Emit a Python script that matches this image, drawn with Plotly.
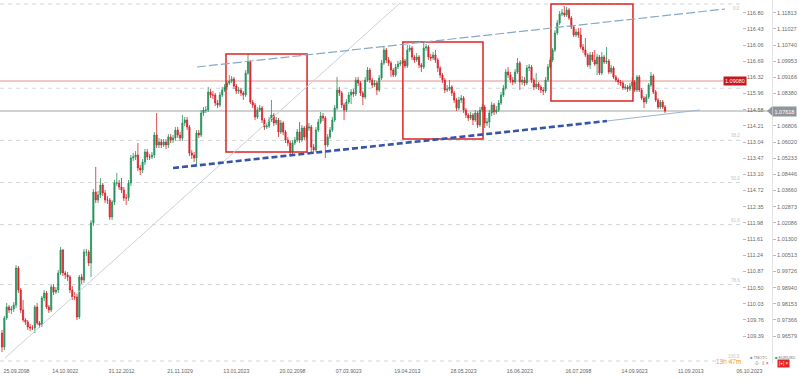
import plotly.graph_objects as go

# ---------------- data (EURUSD-like daily candles) ----------------
first_open = 0.9585

close_a = [0.9515, 0.9660, 0.9715, 0.9700, 0.9705, 0.9725, 0.9910, 0.9800, 0.9700, 0.9650,
           0.9640, 0.9615, 0.9610, 0.9610, 0.9715, 0.9635, 0.9625, 0.9760, 0.9785, 0.9715,
           0.9700, 0.9815, 0.9790, 0.9800, 0.9885, 1.0000, 0.9885, 0.9875, 0.9865, 0.9800,
           0.9765, 0.9765, 0.9665, 0.9865, 0.9850, 0.9990, 0.9990, 0.9935, 1.0135, 1.0290,
           1.0250, 1.0275, 1.0325, 1.0285, 1.0250, 1.0250, 1.0165, 1.0240, 1.0335, 1.0335,
           1.0315, 1.0300, 1.0260, 1.0260, 1.0335, 1.0460, 1.0465, 1.0475, 1.0410, 1.0400,
           1.0440, 1.0490, 1.0465, 1.0465, 1.0475, 1.0575, 1.0525, 1.0540, 1.0525, 1.0540,
           1.0525, 1.0565, 1.0550, 1.0560, 1.0600, 1.0575, 1.0560, 1.0635, 1.0650, 1.0615,
           1.0485, 1.0475, 1.0460, 1.0585, 1.0575, 1.0685, 1.0700, 1.0700, 1.0790, 1.0775,
           1.0775, 1.0735, 1.0725, 1.0775, 1.0800, 1.0815]
high_a = [0.9600, 0.9670, 0.9735, 0.9725, 0.9720, 0.9740, 0.9925, 0.9920, 0.9810, 0.9750,
          0.9660, 0.9650, 0.9630, 0.9625, 0.9725, 0.9735, 0.9645, 0.9770, 0.9800, 0.9795,
          0.9725, 0.9825, 0.9830, 0.9815, 0.9900, 1.0015, 1.0005, 0.9895, 0.9890, 0.9875,
          0.9820, 0.9790, 0.9780, 0.9875, 0.9880, 1.0005, 1.0005, 1.0000, 1.0150, 1.0305,
          1.0415, 1.0295, 1.0360, 1.0335, 1.0300, 1.0270, 1.0260, 1.0250, 1.0350, 1.0385,
          1.0350, 1.0360, 1.0315, 1.0280, 1.0350, 1.0475, 1.0485, 1.0495, 1.0535, 1.0425,
          1.0455, 1.0505, 1.0505, 1.0480, 1.0490, 1.0590, 1.0685, 1.0560, 1.0555, 1.0555,
          1.0555, 1.0580, 1.0580, 1.0575, 1.0615, 1.0615, 1.0590, 1.0675, 1.0665, 1.0665,
          1.0625, 1.0500, 1.0490, 1.0600, 1.0600, 1.0700, 1.0715, 1.0720, 1.0815, 1.0805,
          1.0795, 1.0785, 1.0750, 1.0790, 1.0815, 1.0830]
low_a = [0.9490, 0.9500, 0.9650, 0.9685, 0.9680, 0.9690, 0.9710, 0.9785, 0.9685, 0.9640,
         0.9625, 0.9600, 0.9595, 0.9600, 0.9585, 0.9625, 0.9610, 0.9615, 0.9745, 0.9705,
         0.9685, 0.9690, 0.9775, 0.9780, 0.9785, 0.9875, 0.9870, 0.9855, 0.9845, 0.9785,
         0.9750, 0.9750, 0.9650, 0.9655, 0.9830, 0.9835, 0.9970, 0.9920, 0.9865, 1.0120,
         1.0235, 1.0235, 1.0260, 1.0270, 1.0235, 1.0230, 1.0150, 1.0150, 1.0225, 1.0320,
         1.0300, 1.0285, 1.0245, 1.0225, 1.0245, 1.0320, 1.0445, 1.0450, 1.0395, 1.0375,
         1.0385, 1.0425, 1.0450, 1.0450, 1.0455, 1.0460, 1.0510, 1.0510, 1.0510, 1.0515,
         1.0505, 1.0510, 1.0535, 1.0535, 1.0545, 1.0560, 1.0545, 1.0545, 1.0620, 1.0600,
         1.0470, 1.0455, 1.0440, 1.0425, 1.0560, 1.0565, 1.0670, 1.0685, 1.0690, 1.0760,
         1.0755, 1.0720, 1.0710, 1.0715, 1.0765, 1.0790]

close_b1 = [1.0835, 1.0845, 1.0855, 1.0820, 1.0795, 1.0800, 1.0785, 1.0775, 1.0885, 1.0940,
            1.0740, 1.0725, 1.0665, 1.0700, 1.0710, 1.0650, 1.0615, 1.0620, 1.0650, 1.0675,
            1.0635, 1.0650, 1.0590, 1.0635, 1.0590, 1.0550, 1.0535, 1.0490, 1.0535, 1.0550,
            1.0590, 1.0550, 1.0610, 1.0565, 1.0610]
high_b1 = [1.0850, 1.0875, 1.0870, 1.0865, 1.0830, 1.0815, 1.0810, 1.0795, 1.0900, 1.0980,
           1.0950, 1.0750, 1.0735, 1.0715, 1.0725, 1.0720, 1.0660, 1.0635, 1.0665, 1.0750,
           1.0685, 1.0665, 1.0660, 1.0650, 1.0645, 1.0600, 1.0565, 1.0545, 1.0550, 1.0565,
           1.0605, 1.0640, 1.0625, 1.0620, 1.0625]
low_b1 = [1.0800, 1.0825, 1.0835, 1.0805, 1.0780, 1.0780, 1.0770, 1.0750, 1.0765, 1.0875,
          1.0730, 1.0710, 1.0650, 1.0655, 1.0690, 1.0635, 1.0600, 1.0605, 1.0610, 1.0640,
          1.0620, 1.0625, 1.0565, 1.0580, 1.0575, 1.0535, 1.0520, 1.0475, 1.0480, 1.0525,
          1.0540, 1.0535, 1.0540, 1.0550, 1.0555]

close_b2 = [1.0615, 1.0515, 1.0500, 1.0600, 1.0640, 1.0670, 1.0660, 1.0525, 1.0565, 1.0600,
            1.0650, 1.0710, 1.0800, 1.0785, 1.0725, 1.0700, 1.0740, 1.0775, 1.0790, 1.0780,
            1.0850, 1.0835, 1.0785, 1.0765, 1.0850, 1.0900, 1.0850, 1.0825, 1.0835, 1.0800,
            1.0860, 1.0935, 1.1000, 1.0950, 1.0935, 1.0900, 1.0875, 1.0915, 1.0930, 1.0935,
            1.0945]
high_b2 = [1.0635, 1.0625, 1.0530, 1.0615, 1.0655, 1.0690, 1.0685, 1.0670, 1.0580, 1.0615,
           1.0665, 1.0725, 1.0865, 1.0815, 1.0795, 1.0735, 1.0755, 1.0790, 1.0805, 1.0805,
           1.0865, 1.0865, 1.0845, 1.0795, 1.0865, 1.0915, 1.0910, 1.0860, 1.0850, 1.0845,
           1.0875, 1.0950, 1.1015, 1.1010, 1.0965, 1.0945, 1.0910, 1.0930, 1.0945, 1.0950,
           1.0960]
low_b2 = [1.0595, 1.0485, 1.0480, 1.0490, 1.0590, 1.0630, 1.0645, 1.0460, 1.0515, 1.0555,
          1.0590, 1.0640, 1.0700, 1.0770, 1.0710, 1.0650, 1.0690, 1.0730, 1.0730, 1.0765,
          1.0770, 1.0820, 1.0770, 1.0725, 1.0755, 1.0840, 1.0835, 1.0810, 1.0815, 1.0775,
          1.0790, 1.0850, 1.0925, 1.0935, 1.0920, 1.0865, 1.0865, 1.0865, 1.0905, 1.0920,
          1.0930]

close_c1 = [1.0920, 1.1000, 1.1010, 1.0965, 1.0950, 1.0965, 1.0925, 1.0915, 1.1010, 1.1015,
            1.0965, 1.0960, 1.0975, 1.0950, 1.0910, 1.0875, 1.0850, 1.0800, 1.0805, 1.0815,
            1.0785, 1.0750, 1.0710, 1.0750, 1.0760, 1.0700, 1.0675, 1.0660, 1.0675, 1.0650,
            1.0685, 1.0625, 1.0700, 1.0715]
high_c1 = [1.0955, 1.1025, 1.1025, 1.1020, 1.0975, 1.0985, 1.0975, 1.0935, 1.1035, 1.1030,
           1.1025, 1.0980, 1.0990, 1.1000, 1.0960, 1.0920, 1.0885, 1.0860, 1.0825, 1.0850,
           1.0825, 1.0795, 1.0760, 1.0765, 1.0775, 1.0770, 1.0710, 1.0685, 1.0690, 1.0685,
           1.0700, 1.0695, 1.0715, 1.0730]
low_c1 = [1.0910, 1.0910, 1.0990, 1.0950, 1.0935, 1.0940, 1.0910, 1.0890, 1.0905, 1.0995,
          1.0950, 1.0945, 1.0950, 1.0935, 1.0890, 1.0860, 1.0835, 1.0785, 1.0790, 1.0795,
          1.0770, 1.0735, 1.0695, 1.0700, 1.0735, 1.0685, 1.0660, 1.0645, 1.0650, 1.0625,
          1.0640, 1.0610, 1.0615, 1.0690]

close_c2 = [1.0635, 1.0640, 1.0685, 1.0725, 1.0690, 1.0700, 1.0735, 1.0775, 1.0810, 1.0890,
            1.0875, 1.0850, 1.0840, 1.0890, 1.0935, 1.0840, 1.0850, 1.0835, 1.0910, 1.0915,
            1.0850, 1.0815, 1.0830, 1.0815, 1.0800, 1.0795, 1.0850, 1.0915, 1.0950]
high_c2 = [1.0725, 1.0660, 1.0700, 1.0740, 1.0735, 1.0720, 1.0750, 1.0790, 1.0825, 1.0905,
           1.0915, 1.0890, 1.0865, 1.0905, 1.0960, 1.0945, 1.0870, 1.0865, 1.0925, 1.0930,
           1.0925, 1.0860, 1.0885, 1.0840, 1.0825, 1.0815, 1.0865, 1.0930, 1.0965]
low_c2 = [1.0610, 1.0620, 1.0610, 1.0670, 1.0675, 1.0680, 1.0690, 1.0725, 1.0765, 1.0800,
          1.0860, 1.0835, 1.0825, 1.0830, 1.0880, 1.0800, 1.0825, 1.0820, 1.0825, 1.0895,
          1.0835, 1.0800, 1.0805, 1.0800, 1.0785, 1.0775, 1.0785, 1.0840, 1.0905]

close_c3 = [1.1000, 1.1085, 1.1135, 1.1180, 1.1185, 1.1175, 1.1200, 1.1160, 1.1115, 1.1075,
            1.1090, 1.1075, 1.1015, 1.1000, 1.0975, 1.0925, 1.0975, 1.0950, 1.0930, 1.0965,
            1.0885, 1.0965, 1.0940, 1.0945, 1.0890, 1.0910, 1.0865, 1.0850, 1.0840, 1.0835,
            1.0810, 1.0815, 1.0805, 1.0820, 1.0840]
high_c3 = [1.1010, 1.1100, 1.1150, 1.1195, 1.1205, 1.1220, 1.1215, 1.1210, 1.1170, 1.1125,
           1.1105, 1.1110, 1.1110, 1.1030, 1.1060, 1.0985, 1.0990, 1.0990, 1.1000, 1.0980,
           1.0975, 1.0990, 1.0975, 1.1015, 1.0955, 1.0925, 1.0920, 1.0875, 1.0860, 1.0850,
           1.0845, 1.0830, 1.0825, 1.0835, 1.0865]
low_c3 = [1.0940, 1.0990, 1.1075, 1.1125, 1.1170, 1.1165, 1.1165, 1.1150, 1.1105, 1.1065,
          1.1065, 1.1060, 1.1005, 1.0985, 1.0965, 1.0915, 1.0905, 1.0940, 1.0920, 1.0875,
          1.0875, 1.0875, 1.0930, 1.0930, 1.0880, 1.0880, 1.0855, 1.0840, 1.0825, 1.0820,
          1.0800, 1.0800, 1.0790, 1.0795, 1.0805]

close_d = [1.0800, 1.0865, 1.0800, 1.0760, 1.0740, 1.0765, 1.0825, 1.0870, 1.0790, 1.0750,
           1.0715, 1.0740, 1.0715, 1.0695]
high_d = [1.0850, 1.0875, 1.0875, 1.0810, 1.0770, 1.0780, 1.0835, 1.0890, 1.0880, 1.0800,
          1.0760, 1.0750, 1.0750, 1.0725]
low_d = [1.0790, 1.0790, 1.0790, 1.0750, 1.0710, 1.0730, 1.0755, 1.0815, 1.0780, 1.0740,
         1.0705, 1.0705, 1.0705, 1.0685]

# axis labels (as printed on the chart)
date_ticks = [6.2, 27, 51, 76, 100, 124, 148, 173, 197, 221, 246, 270, 294, 319]
date_labels = ["25.09.2098", "14.10.9022", "31.12.2012", "21.11.1029", "13.01.2023",
               "20.02.2098", "07.03.9023", "19.04.2013", "28.05.2023", "16.06.2023",
               "16.07.2098", "14.09.9023", "11.09.2013", "06.10.2023"]
price_ticks = [1.11865, 1.11057, 1.10248, 1.09440, 1.08631, 1.07823, 1.07014, 1.06206,
               1.05397, 1.04589, 1.03780, 1.02972, 1.02163, 1.01355, 1.00546, 0.99738,
               0.98929, 0.98121, 0.97312, 0.96504, 0.95695]
eur_labels = ["1.11813", "1.11027", "1.10740", "1.09953", "1.09166", "1.08380", "",
              "1.06806", "1.06020", "1.05233", "1.08446", "1.03660", "1.02873", "1.02086",
              "1.01300", "1.00513", "0.99726", "0.98940", "0.98153", "0.97366", "0.96579"]
jpy_labels = ["116.80", "116.43", "116.06", "116.69", "116.32", "115.96", "114.58",
              "114.21", "113.04", "113.47", "113.10", "114.72", "112.35", "111.98",
              "111.61", "111.24", "110.87", "110.50", "110.03", "109.76", "109.39"]

# drawings
fib_top, fib_bottom = 1.1230, 0.9445
fib_ratios = [0.0, 0.236, 0.382, 0.5, 0.618, 0.786, 1.0]
fib_names = ["0.0", "", "38.2", "50.0", "61.8", "78.6", "100.0"]
alert_level = 1.0845
boxes = [(95.6, 130.2, 1.0490, 1.0980), (171.1, 205.3, 1.0555, 1.1040), (234.3, 269.3, 1.0745, 1.1230)]
diag_line = (1.3, 0.9460, 169.9, 1.1235)
upper_channel = (83.2, 1.0915, 308.6, 1.1205)
lower_channel = (73.0, 1.0410, 258.2, 1.0645)
lower_ext = (258.2, 1.0645, 297.9, 1.0700)

# ---------------- assemble ----------------
close = close_a + close_b1 + close_b2 + close_c1 + close_c2 + close_c3 + close_d
high = high_a + high_b1 + high_b2 + high_c1 + high_c2 + high_c3 + high_d
low = low_a + low_b1 + low_b2 + low_c1 + low_c2 + low_c3 + low_d
opens = [first_open] + close[:-1]
idx = list(range(len(close)))
last = close[-1]

GREEN = "#23925c"
RED = "#d8232c"

fig = go.Figure()
fig.add_trace(go.Candlestick(
    x=idx, open=opens, high=high, low=low, close=close,
    increasing=dict(line=dict(color=GREEN, width=0.8), fillcolor=GREEN),
    decreasing=dict(line=dict(color=RED, width=0.8), fillcolor=RED),
    whiskerwidth=0, showlegend=False, hoverinfo="skip"))
fig.add_trace(go.Scatter(x=[idx[0]], y=[close[0]], yaxis="y2", mode="markers",
                         marker=dict(opacity=0), showlegend=False, hoverinfo="skip"))

shapes = []
x_end = 742 / 798
for r in fib_ratios:
    lvl = fib_top - r * (fib_top - fib_bottom)
    shapes.append(dict(type="line", xref="paper", yref="y", x0=0, x1=x_end, y0=lvl, y1=lvl,
                       line=dict(color="#cfd7dc", width=1, dash="4px,4px"), layer="below"))
shapes.append(dict(type="line", xref="paper", yref="y", x0=0, x1=723 / 798,
                   y0=alert_level, y1=alert_level, line=dict(color="#f0b4b4", width=1.6), layer="below"))
shapes.append(dict(type="line", xref="paper", yref="y", x0=0, x1=772 / 798,
                   y0=last, y1=last, line=dict(color="#a3a3a3", width=1), layer="below"))
for x0, x1, y0, y1 in boxes:
    shapes.append(dict(type="rect", xref="x", yref="y", x0=x0, x1=x1, y0=y0, y1=y1,
                       line=dict(color="#e02222", width=1.5), fillcolor="rgba(0,0,0,0)"))
for (ax, ay, bx, by), col, w, dash in [
        (diag_line, "#c9d1d9", 1, "solid"),
        (upper_channel, "#86a9c7", 1.2, "9px,3px"),
        (lower_ext, "#9db6cf", 1.2, "solid"),
        (lower_channel, "#3654aa", 2.6, "6px,3px")]:
    shapes.append(dict(type="line", xref="x", yref="y", x0=ax, y0=ay, x1=bx, y1=by,
                       line=dict(color=col, width=w, dash=dash)))
# notch of the last-price label
shapes.append(dict(type="path", xref="paper", yref="y",
                   path=f"M {767/798},{last} L {772/798},{last+0.0023} L {772/798},{last-0.0023} Z",
                   fillcolor="#8f969c", line=dict(width=0)))

ann = []
for r, name in zip(fib_ratios, fib_names):
    if not name:
        continue
    lvl = fib_top - r * (fib_top - fib_bottom)
    ann.append(dict(xref="paper", yref="y", x=x_end, y=lvl, text=name, showarrow=False,
                    xanchor="right", yanchor="bottom" if r > 0 else "top",
                    font=dict(size=4.5, color="#c4c4c4", family="Liberation Sans")))
ann.append(dict(xref="paper", yref="y", x=723 / 798, y=alert_level, text="1.09080", showarrow=False,
                xanchor="left", yanchor="middle", bgcolor="#c8161d", borderpad=1,
                font=dict(size=5.5, color="white", family="Liberation Sans")))
ann.append(dict(xref="paper", yref="y", x=772 / 798, y=last, text="1.07618", showarrow=False,
                xanchor="left", yanchor="middle", bgcolor="#8f969c", borderpad=1.5,
                font=dict(size=5.5, color="white", family="Liberation Sans")))
ann.append(dict(xref="paper", yref="paper", x=743 / 798, y=1 - 361 / 363, text="13h 47m",
                showarrow=False, xanchor="right", yanchor="middle",
                font=dict(size=6.5, color="#f5a623", family="Liberation Sans")))
ann.append(dict(xref="paper", yref="paper", x=748 / 798, y=1 - 357 / 363,
                text="<span style='color:#4aa3df'>■</span> TNOTC", showarrow=False,
                xanchor="left", yanchor="middle", font=dict(size=4, color="#777", family="Liberation Sans")))
ann.append(dict(xref="paper", yref="paper", x=773 / 798, y=1 - 357 / 363,
                text="<span style='color:#2aa05a'>■</span> EURUSD", showarrow=False,
                xanchor="left", yanchor="middle", font=dict(size=4, color="#777", family="Liberation Sans")))
ann.append(dict(xref="paper", yref="paper", x=752 / 798, y=1 - 363 / 363,
                text="-0- ⇕ <span style='color:#e02222'>×</span>", showarrow=False,
                xanchor="left", yanchor="middle", font=dict(size=4.5, color="#999", family="Liberation Sans")))
ann.append(dict(xref="paper", yref="paper", x=777 / 798, y=1 - 364 / 363,
                text="[+] ×", showarrow=False, bgcolor="#e02222", borderpad=1,
                xanchor="left", yanchor="middle", font=dict(size=4.5, color="white", family="Liberation Sans")))

fig.update_layout(
    width=798, height=381,
    margin=dict(l=0, r=0, t=0, b=18),
    paper_bgcolor="white", plot_bgcolor="white",
    font=dict(family="Liberation Sans, Arial", size=6, color="#6b6b6b"),
    shapes=shapes, annotations=ann, showlegend=False,
    xaxis=dict(domain=[0, 1], range=[-0.854, 339.74], showgrid=False, zeroline=False,
               tickvals=date_ticks, ticktext=date_labels, ticks="outside", ticklen=3,
               tickcolor="rgba(0,0,0,0)", showline=False, ticklabeloverflow="allow",
               tickfont=dict(size=5.2, color="#666"), rangeslider=dict(visible=False),
               automargin=False, fixedrange=True),
    yaxis=dict(range=[0.9435, 1.1250], anchor="free", position=772 / 798, side="right",
               tickvals=price_ticks, ticktext=eur_labels, ticks="outside", ticklen=3,
               tickcolor="#bdbdbd", showline=True, linecolor="#e3e3e3", linewidth=1,
               showgrid=False, zeroline=False, tickfont=dict(size=5.5, color="#6b6b6b"),
               automargin=False),
    yaxis2=dict(range=[0.9435, 1.1250], anchor="free", position=742 / 798, side="right",
                overlaying="y", tickvals=price_ticks, ticktext=jpy_labels, ticks="outside",
                ticklen=3, tickcolor="#bdbdbd", showline=False, showgrid=False, zeroline=False,
                tickfont=dict(size=5.5, color="#6b6b6b"), automargin=False),
)

fig.write_html("out.html", config={"displayModeBar": False})
